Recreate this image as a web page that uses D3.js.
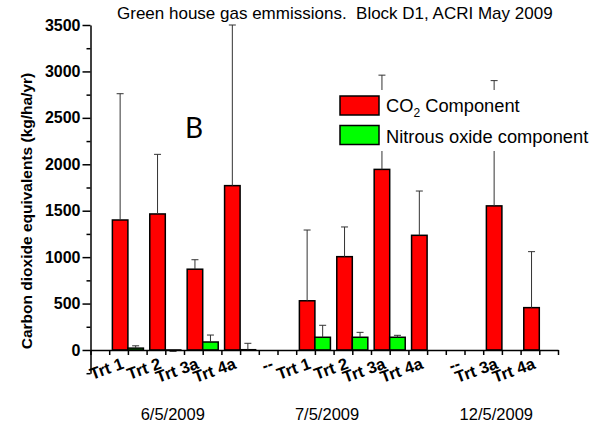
<!doctype html>
<html lang="en">
<head>
    <meta charset="UTF-8">
    <script src="https://cdnjs.cloudflare.com/ajax/libs/d3/7.8.5/d3.min.js"></script>
    <title>Green house gas emmissions</title>
    <style>
        body { margin: 0; background: #fff; }
        svg text { font-family: "Liberation Sans", Arial, sans-serif; }
    </style>
</head>
<body>
<div id="chart"></div>

<script>
    // one slot per treatment, "--" slots are empty
    const treatments = ["Trt 1", "Trt 2", "Trt 3a", "Trt 4a", "--",
        "Trt 1", "Trt 2", "Trt 3a", "Trt 4a", "--", "Trt 3a", "Trt 4a"];
    const co2 = [1400, 1465, 870, 1770, null, 530, 1005, 1945, 1235, null, 1552, 456];
    const co2Err = [1360, 642, 102, 1730, null, 762, 320, 1015, 477, null, 1349, 603];
    const n2o = [20, -3, 86, 3, null, 137, 137, 137, null, null, null, null];
    const n2oErr = [25, -12, 75, 69, null, 129, 53, 21, null, null, null, null];
    const dates = ["6/5/2009", "7/5/2009", "12/5/2009"];
    const yTicks = [0, 500, 1000, 1500, 2000, 2500, 3000, 3500];

    const W = 593, H = 426;
    const svg = d3.select("#chart").append("svg")
        .attr("width", W).attr("height", H);

    const x = d3.scaleLinear().domain([0, 25]).range([90.5, 558]);
    const y = d3.scaleLinear().domain([-250, 3500]).range([373.2, 25]);
    const half = 0.83;   // bar width in x units
    const center = i => 2 + 2 * i;

    // bars
    const slots = treatments.map((t, i) => ({i, t, co2: co2[i], co2Err: co2Err[i], n2o: n2o[i], n2oErr: n2oErr[i]}));

    svg.append("g").selectAll("rect")
        .data(slots.filter(d => d.co2 != null))
        .join("rect")
        .attr("x", d => x(center(d.i) - half))
        .attr("width", d => x(center(d.i)) - x(center(d.i) - half))
        .attr("y", d => y(Math.max(0, d.co2)))
        .attr("height", d => Math.abs(y(d.co2) - y(0)))
        .attr("fill", "#ff0000").attr("stroke", "#000").attr("stroke-width", 1.5);

    svg.append("g").selectAll("rect")
        .data(slots.filter(d => d.n2o != null))
        .join("rect")
        .attr("x", d => x(center(d.i)))
        .attr("width", d => x(center(d.i) + half) - x(center(d.i)))
        .attr("y", d => y(Math.max(0, d.n2o)))
        .attr("height", d => Math.abs(y(d.n2o) - y(0)))
        .attr("fill", "#00ff00").attr("stroke", "#000").attr("stroke-width", 1.5);

    // error bars
    const errs = [];
    slots.forEach(d => {
        if (d.co2 != null) errs.push({cx: x(center(d.i) - half / 2), v: d.co2, e: d.co2Err});
        if (d.n2o != null) errs.push({cx: x(center(d.i) + half / 2), v: d.n2o, e: d.n2oErr});
    });
    const eg = svg.append("g").attr("stroke", "#333").attr("stroke-width", 1);
    eg.selectAll("line.v").data(errs).join("line").attr("class", "v")
        .attr("x1", d => d.cx).attr("x2", d => d.cx)
        .attr("y1", d => y(d.v)).attr("y2", d => y(d.v + d.e));
    eg.selectAll("line.c").data(errs).join("line").attr("class", "c")
        .attr("x1", d => d.cx - 3.5).attr("x2", d => d.cx + 3.5)
        .attr("y1", d => y(d.v + d.e)).attr("y2", d => y(d.v + d.e));

    // legend (white box hides error lines behind it)
    const lg = svg.append("g");
    lg.append("rect").attr("x", 334).attr("y", 90).attr("width", 259).attr("height", 61).attr("fill", "#fff");
    lg.append("rect").attr("x", 340).attr("y", 96).attr("width", 39).attr("height", 19)
        .attr("fill", "#ff0000").attr("stroke", "#000").attr("stroke-width", 1.5);
    lg.append("rect").attr("x", 340).attr("y", 125.5).attr("width", 39).attr("height", 19)
        .attr("fill", "#00ff00").attr("stroke", "#000").attr("stroke-width", 1.5);
    const t1 = lg.append("text").attr("x", 386).attr("y", 112).attr("font-size", 18.3);
    t1.append("tspan").text("CO");
    t1.append("tspan").attr("font-size", 12).attr("dy", 5).text("2");
    t1.append("tspan").attr("dy", -5).text(" Component");
    lg.append("text").attr("x", 386).attr("y", 143).attr("font-size", 18.3).text("Nitrous oxide component");

    // y axis
    const yAxis = svg.append("g").attr("transform", `translate(${x(0)},0)`)
        .call(d3.axisLeft(y).tickValues(yTicks).tickFormat(d3.format("d"))
            .tickSize(8).tickSizeOuter(0).tickPadding(2));
    yAxis.selectAll("text").attr("font-size", 16).attr("font-weight", "bold").attr("fill", "#000");
    yAxis.select(".domain").attr("stroke-width", 1.5);
    yAxis.selectAll(".tick line").attr("stroke-width", 1.5);
    svg.append("g").attr("transform", `translate(${x(0)},0)`)
        .call(d3.axisLeft(y).tickValues(d3.range(-250, 3500, 500)).tickSize(4).tickSizeOuter(0).tickFormat(""))
        .call(g => g.select(".domain").remove())
        .selectAll(".tick line").attr("stroke-width", 1.5);

    // x axis
    const xAxis = svg.append("g").attr("transform", `translate(0,${y(0)})`)
        .call(d3.axisBottom(x).tickValues(d3.range(0, 26)).tickSize(5).tickSizeOuter(0).tickFormat(""));
    xAxis.select(".domain").attr("stroke-width", 1.5);
    xAxis.selectAll(".tick line").attr("stroke-width", 1.5);

    // rotated treatment labels
    svg.append("g").selectAll("text").data(slots).join("text")
        .attr("transform", d => `translate(${x(center(d.i)) - 3},368) rotate(-20)`)
        .attr("text-anchor", "end")
        .attr("font-size", 16.5).attr("font-weight", "bold")
        .text(d => d.t);

    // date labels
    const dateAt = [4.4, 12.65, 21.7];
    svg.append("g").selectAll("text").data(dates).join("text")
        .attr("x", (d, i) => x(dateAt[i])).attr("y", 420)
        .attr("text-anchor", "middle").attr("font-size", 16.5)
        .text(d => d);

    // y axis title
    svg.append("text")
        .attr("transform", "translate(32,211) rotate(-90)")
        .attr("text-anchor", "middle").attr("font-size", 15.5).attr("font-weight", "bold")
        .text("Carbon dioxide equivalents (kg/ha/yr)");

    // title
    svg.append("text").attr("x", 117).attr("y", 19).attr("font-size", 17)
        .style("white-space", "pre")
        .text("Green house gas emmissions.  Block D1, ACRI May 2009");

    // panel letter
    svg.append("text").attr("x", 185).attr("y", 138).attr("font-size", 28)
        .style("font-family", "Lato, 'Open Sans', sans-serif")
        .text("B");
</script>
</body>
</html>
